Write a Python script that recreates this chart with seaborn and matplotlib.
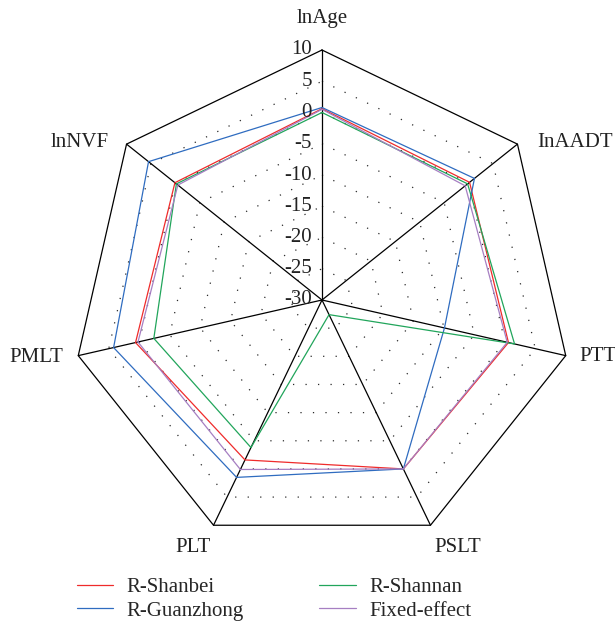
import numpy as np
import pandas as pd
import matplotlib
matplotlib.use("Agg")
import matplotlib.pyplot as plt
import matplotlib.transforms as mtransforms
import seaborn as sns

# Radar axes, clockwise from the top
axis_labels = ["lnAge", "InAADT", "PTT", "PSLT", "PLT", "PMLT", "lnNVF"]

# Series values on each axis
r_shanbei = [0.6, 0.2, 0.6, 0.0, -1.6, 0.6, 0.1]
r_guanzhong = [0.8, 1.2, -9.9, 0.0, 1.5, 4.2, 5.5]
r_shannan = [0.0, -0.2, 1.6, -27.4, -3.8, -2.4, -0.2]
fixed_effect = [0.5, -0.7, 0.4, 0.0, 0.1, 0.2, -0.5]

series_names = ["R-Shanbei", "R-Guanzhong", "R-Shannan", "Fixed-effect"]
series_values = [r_shanbei, r_guanzhong, r_shannan, fixed_effect]

radial_ticks = [10, 5, 0, -5, -10, -15, -20, -25, -30]
dotted_levels = [5, 0, -5, -10, -15, -20, -25]

palette = {
    "R-Shanbei": "#ef2b2b",
    "R-Guanzhong": "#2f6cc0",
    "R-Shannan": "#21a55b",
    "Fixed-effect": "#a67fc2",
}

sns.set_style("white")
plt.rcParams["font.family"] = ["Liberation Serif", "DejaVu Serif"]
FS = 15

n = len(axis_labels)
theta = np.linspace(0, 2 * np.pi, n, endpoint=False)
theta_closed = np.append(theta, 2 * np.pi)

# Long-form table, each polygon closed back on its first axis
rows = []
for name, vals in zip(series_names, series_values):
    for i, t in enumerate(theta_closed):
        rows.append({"theta": t, "value": vals[i % n], "series": name})
df = pd.DataFrame(rows)

fig = plt.figure(figsize=(6.15, 6.24), dpi=100)
ax = fig.add_axes([72 / 615, 74 / 624, 500 / 615, 500 / 624], projection="polar")
ax.set_theta_offset(np.pi / 2)
ax.set_theta_direction(-1)

# Heptagonal frame, spokes and dotted rings
rmin, rmax = radial_ticks[-1], radial_ticks[0]
ax.plot(theta_closed, [rmax] * (n + 1), color="black", lw=0.9, clip_on=False, zorder=2)
for t in theta:
    ax.plot([t, t], [rmin, rmax], color="black", lw=0.9, clip_on=False, zorder=2)
for lv in dotted_levels:
    ax.plot(theta_closed, [lv] * (n + 1), color="#2a2a2a", lw=0.9,
            linestyle=(0, (1, 9)), zorder=1)

sns.lineplot(data=df, x="theta", y="value", hue="series", hue_order=series_names,
             palette=palette, sort=False, estimator=None, lw=0.9, ax=ax, zorder=3)

ax.set_ylim(rmin, rmax)
ax.set_xticks([])
ax.set_yticks([])
ax.grid(False)
ax.spines["polar"].set_visible(False)
ax.patch.set_visible(False)
ax.set_xlabel("")
ax.set_ylabel("")

# Radial value labels along the top spoke
trans = mtransforms.offset_copy(ax.transData, fig=fig, x=-10, y=0, units="dots")
for v in radial_ticks:
    ax.text(0, v, f"{v}", transform=trans, ha="right", va="center",
            fontsize=FS, color="#222222", clip_on=False, zorder=4)

# Axis names around the frame
label_offsets = [(0, 32, "center"), (20, 2, "left"), (14, -1, "left"),
                 (27, -22, "center"), (-21, -22, "center"),
                 (-15, -2, "right"), (-18, 2, "right")]
for t, lab, (dx, dy, ha) in zip(theta, axis_labels, label_offsets):
    ax.annotate(lab, xy=(t, rmax), xytext=(dx, dy), textcoords="offset pixels",
                ha=ha, va="center", fontsize=FS, color="#222222",
                annotation_clip=False)

handles, labels = ax.get_legend_handles_labels()
if ax.get_legend() is not None:
    ax.get_legend().remove()
fig.legend(handles, labels, loc="center", bbox_to_anchor=(274 / 615, 1 - 599 / 624),
           ncol=2, frameon=False, handlelength=1.75, handletextpad=0.65,
           columnspacing=3.6, labelspacing=0.2, fontsize=FS)

fig.savefig("out.png", dpi=100)
